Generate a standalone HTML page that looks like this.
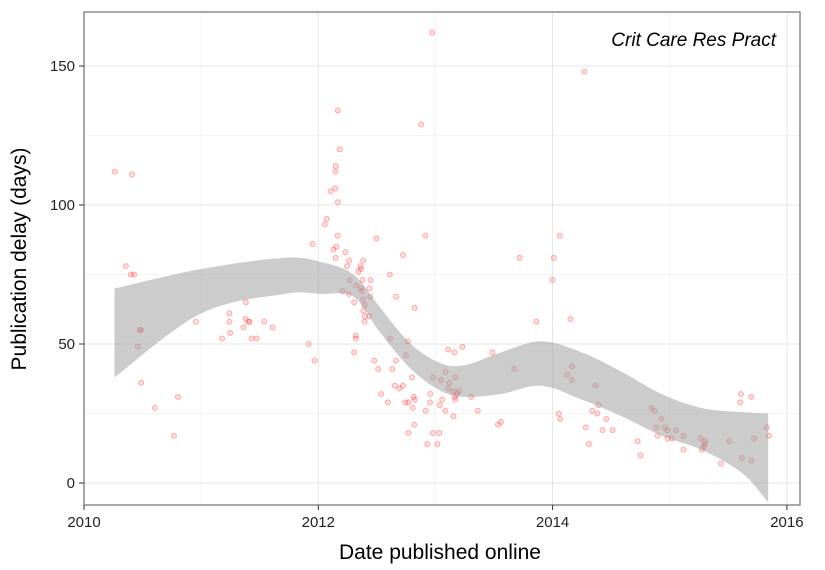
<!DOCTYPE html>
<html><head><meta charset="utf-8">
<style>
html,body{margin:0;padding:0;background:#fff;}
svg{display:block;font-family:"Liberation Sans",sans-serif;}
</style></head>
<body>
<svg id="chart" width="825" height="570" viewBox="0 0 825 570">
<g id="grid"></g>
<g id="points"></g>
<g id="ribbon"></g>
<rect x="84" y="12" width="716" height="493" fill="none" stroke="#7a7a7a" stroke-width="1.3"/>
<g id="axes"></g>
<text x="776" y="46" text-anchor="end" font-size="19" font-style="italic" fill="#000">Crit Care Res Pract</text>
<text x="440" y="559" text-anchor="middle" font-size="21" fill="#000">Date published online</text>
<text transform="translate(26,259) rotate(-90)" text-anchor="middle" font-size="21" fill="#000">Publication delay (days)</text>
</svg>
<script>
const xTicks = [2010, 2012, 2014, 2016];
const xMinor = [2011, 2013, 2015];
const yTicks = [0, 50, 100, 150];
const yMinor = [25, 75, 125];
const dates = [2010.263,2010.411,2010.357,2010.400,2010.428,2010.479,2010.485,2010.460,2010.488,2010.605,2010.802,2010.768,2010.956,2011.179,2011.247,2011.241,2011.241,2011.381,2011.361,2011.378,2011.413,2011.404,2011.430,2011.473,2011.539,2011.610,2011.918,2011.969,2011.952,
2012.183,2012.149,2012.146,2012.106,2012.146,2012.166,2012.072,2012.055,2012.166,2012.155,
2012.129,2012.149,2012.232,2012.263,2012.246,2012.383,2012.363,2012.343,2012.360,2012.497,
2012.914,2012.723,2012.611,2012.269,2012.378,2012.446,2012.323,2012.363,2012.437,2012.206,
2012.260,2012.374,2012.443,2012.383,2012.306,2012.395,2012.386,2012.397,2012.434,2012.395,
2012.665,2012.823,2012.320,2012.320,2012.306,2012.613,2012.765,2012.748,2012.477,2012.511,
2012.631,2012.663,2012.800,2012.654,2012.694,2012.723,2012.537,2012.594,2012.742,2012.768,
2012.814,2012.823,2012.806,2012.819,2012.768,2012.931,2013.016,2012.979,2013.033,2012.917,
2012.956,2012.954,2012.977,2013.045,2013.085,2013.108,2013.162,2013.230,2013.170,2013.108,
2013.119,2013.153,2013.202,2013.185,2013.165,2013.170,2013.057,2013.037,2013.085,2013.153,
2013.305,2013.362,2013.487,2013.559,2013.533,2013.673,2013.718,
2014.061,2014.010,2013.998,2013.861,2014.152,2014.167,2014.127,2014.167,2014.366,2014.052,2014.064,2014.390,2014.338,2014.381,2014.458,2014.283,2014.426,2014.512,2014.309,2014.726,2014.752,2014.843,2014.869,2014.929,2014.886,2014.957,2014.980,2014.897,2014.980,2015.020,2015.054,2015.117,2015.117,2015.263,2015.300,2015.300,2015.289,2015.274,2015.508,2015.437,2015.608,2015.696,2015.602,2015.719,2015.616,2015.696,2015.828,2015.848,
2012.971,2012.877,2012.166,2014.272];
const delays = [112,111,78,75,75,55,55,49,36,27,31,17,58,52,54,58,61,65,56,59,58,58,52,52,58,56,50,44,86,
120,114,112,105,106,101,95,93,89,85,
84,81,83,80,78,80,77,76,78,88,
89,82,75,73,73,73,71,70,70,69,
68,69,67,66,65,64,62,60,60,58,
67,63,53,52,47,52,51,46,44,41,
41,44,38,35,34,35,32,29,29,29,
31,30,27,21,18,14,14,18,18,26,
32,29,38,37,40,48,47,49,38,34,
36,33,33,32,31,30,30,28,26,24,
31,26,47,22,21,41,81,
89,81,73,58,59,42,39,37,35,25,23,28,26,25,23,20,19,19,14,15,10,27,26,23,20,20,19,17,16,16,19,17,12,16,15,14,13,12,15,7,32,31,29,16,9,8,20,17,
162,129,134,148];
const bandX = [2010.26,2011.0,2011.71,2012.02,2012.3,2012.53,2012.79,2013.05,2013.26,2013.56,2013.9,2014.25,2014.59,2014.93,2015.27,2015.62,2015.84];
const bandUpper = [70,77,81,79.5,75,63,50,43,42.5,47,51,47,40,32,27,25.5,25];
const bandLower = [38,61,68,68,67,54,41,33,31,32,35,30,24,17,12,3.5,-7];

const NS = "http://www.w3.org/2000/svg";
function xs(v){ return 84 + (v - 2010) * 117.15; }
function ys(v){ return 483 - v * 2.78; }
function mk(tag, attrs, parent){
  const e = document.createElementNS(NS, tag);
  for (const k in attrs) e.setAttribute(k, attrs[k]);
  parent.appendChild(e);
  return e;
}
const grid = document.getElementById('grid');
const axes = document.getElementById('axes');
xMinor.forEach(v => {
  const l = mk('line', {x1: xs(v), x2: xs(v), y1: 12, y2: 505, stroke: '#f4f4f4', 'stroke-width': 1}, grid);
  
  
});
yMinor.forEach(v => {
  const l = mk('line', {x1: 84, x2: 800, y1: ys(v), y2: ys(v), stroke: '#f4f4f4', 'stroke-width': 1}, grid);
  
  
});
xTicks.forEach(v => {
  const l = mk('line', {x1: xs(v), x2: xs(v), y1: 12, y2: 505, stroke: '#e6e6e6', 'stroke-width': 1}, grid);
  
  
  const t = mk('line', {x1: xs(v), x2: xs(v), y1: 505, y2: 510, stroke: '#333', 'stroke-width': 1}, axes);
  
  
  const tx = mk('text', {x: xs(v), y: 527, 'text-anchor': 'middle', 'font-size': 15, fill: '#222'}, axes);
  tx.textContent = v;
  
  
});
yTicks.forEach(v => {
  const l = mk('line', {x1: 84, x2: 800, y1: ys(v), y2: ys(v), stroke: '#e6e6e6', 'stroke-width': 1}, grid);
  
  
  const t = mk('line', {x1: 79, x2: 84, y1: ys(v), y2: ys(v), stroke: '#333', 'stroke-width': 1}, axes);
  
  
  const tx = mk('text', {x: 75, y: ys(v) + 5, 'text-anchor': 'end', 'font-size': 15, fill: '#222'}, axes);
  tx.textContent = v;
  
  
});
const pts = document.getElementById('points');
dates.forEach((d, i) => {
  const c = mk('circle', {cx: xs(d), cy: ys(delays[i]), r: 2.5, fill: 'rgba(255,0,0,0.13)', stroke: 'rgba(255,0,0,0.3)', 'stroke-width': 1}, pts);
  
  
});
function curve(px, py){
  let d = '';
  for (let i = 0; i < px.length - 1; i++){
    const x0 = px[Math.max(i-1,0)], y0 = py[Math.max(i-1,0)];
    const x1 = px[i], y1 = py[i], x2 = px[i+1], y2 = py[i+1];
    const x3 = px[Math.min(i+2,px.length-1)], y3 = py[Math.min(i+2,px.length-1)];
    const c1x = x1 + (x2-x0)/6, c1y = y1 + (y2-y0)/6;
    const c2x = x2 - (x3-x1)/6, c2y = y2 - (y3-y1)/6;
    d += ' C' + c1x + ',' + c1y + ' ' + c2x + ',' + c2y + ' ' + x2 + ',' + y2;
  }
  return d;
}
const ux = bandX.map(xs), uy = bandUpper.map(ys);
const lx = bandX.map(xs).reverse(), ly = bandLower.map(ys).reverse();
const path = 'M' + ux[0] + ',' + uy[0] + curve(ux, uy) + ' L' + lx[0] + ',' + ly[0] + curve(lx, ly) + ' Z';
const rb = mk('path', {d: path, fill: 'rgba(153,153,153,0.5)', stroke: 'none'}, document.getElementById('ribbon'));


</script>
</body></html>
